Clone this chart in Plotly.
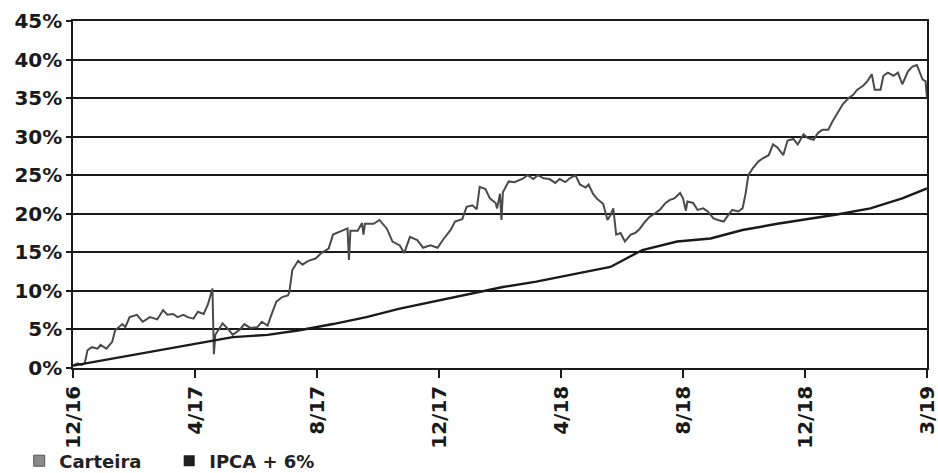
import plotly.graph_objects as go

# ---- data (trading-day index, % accumulated) ----
tick_days = [0, 84, 168, 252, 336, 420, 504, 588]
tick_labels = ["12/16", "4/17", "8/17", "12/17", "4/18", "8/18", "12/18", "3/19"]

carteira_dias = [0, 3, 6, 8, 10, 13, 17, 19, 23, 27, 29, 34, 36, 39, 44, 48, 53, 58, 62, 65,
                 69, 72, 76, 79, 83, 86, 90, 93, 96, 97, 98, 101, 103, 107, 110, 115, 118, 122,
                 127, 130, 134, 136, 140, 144, 148, 149, 151, 155, 158, 162, 167, 171, 176, 179,
                 184, 189, 190, 191, 196, 199, 200, 201, 207, 211, 216, 220, 225, 228, 232, 237,
                 241, 246, 251, 255, 260, 263, 268, 271, 275, 278, 280, 284, 287, 291, 292, 294,
                 295, 296, 300, 304, 310, 313, 317, 320, 324, 328, 332, 335, 339, 342, 346, 349,
                 353, 355, 358, 361, 365, 368, 370, 372, 374, 377, 380, 384, 387, 390, 394, 397,
                 401, 404, 408, 411, 414, 418, 420, 422, 423, 427, 430, 434, 437, 441, 444, 448,
                 451, 454, 458, 461, 463, 465, 468, 472, 475, 479, 482, 485, 489, 492, 496, 499,
                 503, 506, 510, 513, 516, 520, 523, 527, 530, 534, 537, 540, 544, 547, 550, 552,
                 556, 558, 561, 565, 568, 571, 575, 578, 581, 585, 587, 588]
carteira_valores = [0.3, 0.6, 0.4, 0.6, 2.3, 2.7, 2.5, 3.0, 2.5, 3.4, 4.9, 5.7, 5.3, 6.6, 6.9, 6.0,
                    6.6, 6.3, 7.5, 6.9, 7.0, 6.6, 6.9, 6.6, 6.4, 7.3, 7.0, 8.3, 10.3, 1.8, 4.3, 5.1,
                    5.8, 5.0, 4.3, 5.0, 5.7, 5.2, 5.3, 6.0, 5.5, 6.6, 8.6, 9.2, 9.4, 9.9, 12.7, 13.9,
                    13.4, 13.9, 14.2, 14.9, 15.5, 17.3, 17.7, 18.1, 14.0, 17.8, 17.8, 18.8, 17.3, 18.7,
                    18.7, 19.2, 18.1, 16.4, 15.9, 14.9, 17.0, 16.6, 15.6, 15.9, 15.6, 16.7, 17.9, 19.0,
                    19.3, 20.9, 21.1, 20.6, 23.5, 23.2, 22.0, 21.4, 20.7, 22.6, 19.2, 22.8, 24.2, 24.1,
                    24.6, 25.0, 24.5, 25.0, 24.6, 24.5, 24.0, 24.5, 24.1, 24.6, 25.0, 23.8, 23.4, 23.8,
                    22.6, 21.9, 21.3, 19.2, 19.8, 20.7, 17.3, 17.5, 16.4, 17.3, 17.5, 18.0, 19.0, 19.6,
                    20.1, 20.5, 21.4, 21.8, 22.0, 22.7, 22.0, 20.4, 21.6, 21.4, 20.5, 20.7, 20.3, 19.4,
                    19.2, 19.0, 19.8, 20.5, 20.3, 20.7, 22.5, 25.0, 25.9, 26.8, 27.2, 27.6, 29.0, 28.6,
                    27.6, 29.5, 29.7, 29.0, 30.3, 29.8, 29.6, 30.5, 30.9, 30.9, 32.0, 33.3, 34.2, 35.0,
                    35.4, 36.1, 36.6, 37.2, 38.1, 36.1, 36.1, 37.9, 38.3, 37.9, 38.3, 36.8, 38.5, 39.1,
                    39.3, 37.4, 37.2, 35.0]

ipca_dias = [0, 41, 96, 110, 134, 156, 179, 202, 225, 248, 273, 296, 319, 342, 370, 392, 416,
             439, 461, 485, 503, 526, 549, 571, 588]
ipca_valores = [0.3, 1.7, 3.6, 4.0, 4.3, 4.9, 5.7, 6.6, 7.7, 8.6, 9.6, 10.5, 11.2, 12.1, 13.1,
                15.3, 16.4, 16.8, 17.9, 18.7, 19.2, 19.9, 20.7, 22.0, 23.3]

y_ticks = [0, 5, 10, 15, 20, 25, 30, 35, 40, 45]

FONT = "DejaVu Sans"

fig = go.Figure()
fig.add_trace(go.Scatter(x=carteira_dias, y=carteira_valores, mode="lines",
                         line=dict(color="#4a4a4a", width=2), showlegend=False))
fig.add_trace(go.Scatter(x=ipca_dias, y=ipca_valores, mode="lines",
                         line=dict(color="#1a1a1a", width=2.4), showlegend=False))
# legend entries
fig.add_trace(go.Scatter(x=[None], y=[None], mode="markers", name="Carteira",
                         marker=dict(symbol="square", size=11, color="#8a8a8a",
                                     line=dict(color="#555", width=1))))
fig.add_trace(go.Scatter(x=[None], y=[None], mode="markers", name="IPCA + 6%",
                         marker=dict(symbol="square", size=11, color="#1e1e1e")))

fig.update_layout(
    width=938, height=490,
    margin=dict(l=73, r=11, t=21, b=113),
    paper_bgcolor="white", plot_bgcolor="white",
    font=dict(family=FONT, color="#1a1a1a"),
    legend=dict(orientation="h", x=-0.063, xanchor="left", y=-0.268, yanchor="middle",
                bgcolor="rgba(0,0,0,0)",
                font=dict(size=18, family=FONT, color="#222", weight="bold"),
                itemwidth=30, entrywidth=105, entrywidthmode="pixels"),
)
fig.update_xaxes(range=[0, 588], tickmode="array", tickvals=tick_days, ticktext=tick_labels,
                 tickangle=-90, tickfont=dict(size=20, family=FONT, weight="bold"),
                 showgrid=False, zeroline=False, showline=True, linecolor="#1a1a1a",
                 linewidth=1.5, mirror=True, ticks="outside", ticklen=8, tickwidth=1.5,
                 tickcolor="#1a1a1a", automargin=False, ticklabeloverflow="allow")
fig.update_yaxes(range=[0, 45], tickmode="array", tickvals=y_ticks,
                 ticktext=[f"{v}%" for v in y_ticks],
                 tickfont=dict(size=20, family=FONT, weight="bold"),
                 showgrid=True, gridcolor="#1a1a1a", gridwidth=1.6, zeroline=False,
                 showline=True, linecolor="#1a1a1a", linewidth=1.5, mirror=True,
                 ticks="outside", ticklen=5, tickwidth=1.5, tickcolor="#1a1a1a",
                 automargin=False, ticklabeloverflow="allow")

fig.write_html("out.html", config={"displayModeBar": False},
               post_script="document.body.style.margin='0';"
                           "document.documentElement.style.overflow='hidden';")
